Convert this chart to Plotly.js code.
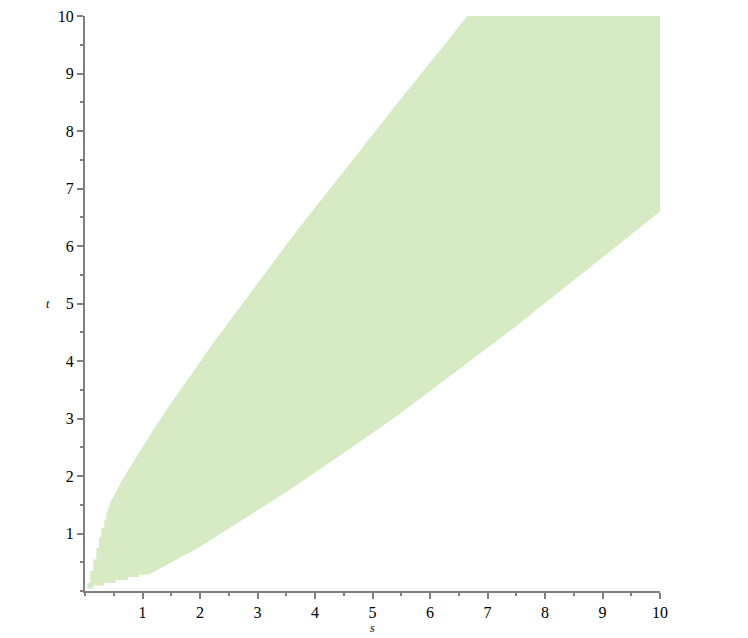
<!DOCTYPE html>
<html>
<head>
<meta charset="utf-8">
<script src="https://cdn.plot.ly/plotly-3.0.1.min.js"></script>
<style>
  body { margin: 0; background: #fff; }
  #graph { width: 748px; height: 638px; }
</style>
</head>
<body>
<div id="graph"></div>
<script>
// staircase on the left edge, near the origin (going up)
var stairLeftS = [0.04, 0.04, 0.092, 0.092, 0.144, 0.144, 0.197, 0.197, 0.243, 0.243, 0.283, 0.283, 0.336, 0.336, 0.37];
var stairLeftT = [0.045, 0.144, 0.144, 0.348, 0.348, 0.55, 0.55, 0.753, 0.753, 0.93, 0.93, 1.10, 1.10, 1.245, 1.245];

// upper boundary of the region (left to right), then the top-right corner
var upperS = [0.37, 0.45, 0.55, 0.65, 0.75, 0.875, 1.0, 1.25, 1.5, 1.75, 2.0, 2.25, 2.5, 2.75, 3.0, 3.25,
              3.5, 3.75, 4.0, 4.25, 4.5, 4.75, 5.0, 5.25, 5.5, 5.75, 6.0, 6.25, 6.5, 6.65, 10];
var upperT = [1.33, 1.56, 1.75, 1.93, 2.1, 2.3, 2.5, 2.9, 3.27, 3.63, 3.99, 4.34, 4.68, 5.02, 5.36, 5.69,
              6.02, 6.35, 6.67, 6.99, 7.31, 7.63, 7.95, 8.26, 8.57, 8.88, 9.19, 9.5, 9.81, 10.0, 10.0];

// lower boundary (right to left)
var lowerS = [10, 9.5, 9.0, 8.5, 8.0, 7.5, 7.0, 6.5, 6.0, 5.5, 5.0, 4.5, 4.0, 3.5, 3.0, 2.75, 2.5, 2.25, 2.0, 1.75, 1.5, 1.3, 1.113];
var lowerT = [6.6, 6.2, 5.8, 5.4, 5.0, 4.61, 4.23, 3.85, 3.47, 3.1, 2.75, 2.4, 2.06, 1.72, 1.4, 1.24, 1.08, 0.92, 0.77, 0.63, 0.5, 0.4, 0.3];

// staircase along the bottom, near the origin (going left)
var stairLowS = [1.113, 0.939, 0.939, 0.753, 0.753, 0.532, 0.532, 0.33, 0.33, 0.144, 0.144, 0.04];
var stairLowT = [0.289, 0.289, 0.243, 0.243, 0.191, 0.191, 0.144, 0.144, 0.097, 0.097, 0.045, 0.045];

var tickVals = [1, 2, 3, 4, 5, 6, 7, 8, 9, 10];

var region = {
    x: stairLeftS.concat(upperS, lowerS, stairLowS),
    y: stairLeftT.concat(upperT, lowerT, stairLowT),
    mode: 'lines',
    fill: 'toself',
    fillcolor: 'rgb(214,234,195)',
    line: {width: 0, color: 'rgb(214,234,195)'},
    hoverinfo: 'skip',
    showlegend: false
};

var axisStyle = {
    range: [0, 10],
    showgrid: false,
    zeroline: false,
    showline: true,
    linecolor: '#7f7f7f',
    linewidth: 2,
    ticks: 'outside',
    ticklen: 6,
    tickwidth: 2,
    tickcolor: '#7f7f7f',
    tickvals: tickVals,
    tickfont: {family: 'Liberation Serif', size: 16, color: '#000'},
    minor: {dtick: 0.5, ticks: 'outside', ticklen: 3, tickwidth: 2, tickcolor: '#7f7f7f'},
    fixedrange: true
};

var layout = {
    width: 748,
    height: 638,
    margin: {l: 85, r: 88, t: 16, b: 47},
    paper_bgcolor: '#fff',
    plot_bgcolor: '#fff',
    xaxis: Object.assign({}, axisStyle),
    yaxis: Object.assign({}, axisStyle),
    annotations: [
        {text: '<i>s</i>', xref: 'paper', yref: 'paper', x: 0.5, y: 0, yshift: -37,
         xanchor: 'center', yanchor: 'middle',
         showarrow: false, font: {family: 'Liberation Serif', size: 12, color: '#000'}},
        {text: '<i>t</i>', xref: 'paper', yref: 'paper', x: 0, y: 0.5, xshift: -37,
         xanchor: 'center', yanchor: 'middle',
         showarrow: false, font: {family: 'Liberation Serif', size: 12, color: '#000'}}
    ]
};

Plotly.newPlot('graph', [region], layout, {displayModeBar: false, staticPlot: true});
</script>
</body>
</html>
